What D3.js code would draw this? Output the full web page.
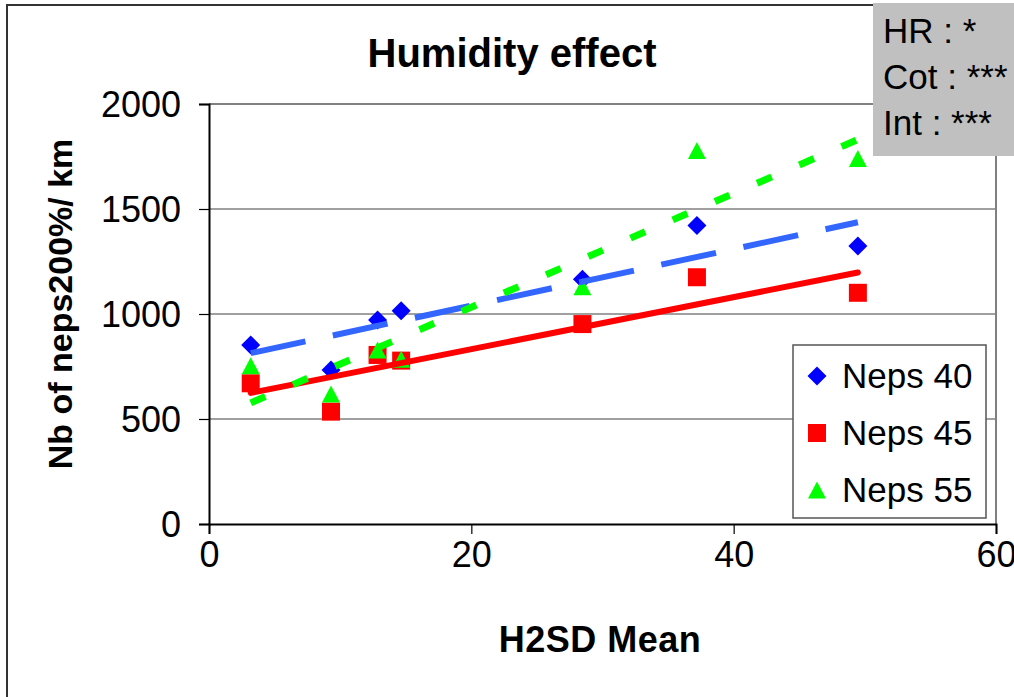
<!DOCTYPE html>
<html>
<head>
<meta charset="utf-8">
<script src="https://cdn.jsdelivr.net/npm/d3@7/dist/d3.min.js"></script>
<style>
  html, body { margin: 0; padding: 0; background: #fff; }
  svg { display: block; }
  text { font-family: "Liberation Sans", Arial, sans-serif; fill: #000; }
</style>
</head>
<body>
<svg id="chart" width="1014" height="697"></svg>
<script>
// ---- data ----
const xValues = [3.18, 9.3, 12.85, 14.65, 28.47, 37.2, 49.47];
const neps40 = [852, 733, 971, 1016, 1165, 1422, 1324];
const neps45 = [670, 535, 805, 778, 952, 1175, 1101];
const neps55 = [754, 619, 829, 785, 1130, 1778, 1741];
const seriesNames = ["Neps 40", "Neps 45", "Neps 55"];
const xTicks = [0, 20, 40, 60];
const yTicks = [0, 500, 1000, 1500, 2000];
const statsLines = ["HR : *", "Cot : ***", "Int : ***"];
const titleText = "Humidity effect";
const xLabelText = "H2SD Mean";
const yLabelText = "Nb of neps200%/ km";

// ---- styles ----
const styles = [
  { marker: "diamond", color: "#0000FF", line: "#3366FF", width: 6, dash: "56,28", cap: "butt" },
  { marker: "square",  color: "#FF0000", line: "#FF0000", width: 6, dash: null,   cap: "round" },
  { marker: "triangle",color: "#00FF00", line: "#00FF00", width: 7, dash: "16,30", cap: "butt" }
];
const allSeries = [neps40, neps45, neps55];

const svg = d3.select("#chart");

// outer chart frame
svg.append("rect").attr("x", 7).attr("y", 5).attr("width", 1200).attr("height", 900)
  .attr("fill", "#fff").attr("stroke", "#333").attr("stroke-width", 2);

const plot = { left: 209, right: 996, top: 104, bottom: 524 };
const x = d3.scaleLinear().domain([0, 60]).range([plot.left, plot.right]);
const y = d3.scaleLinear().domain([0, 2000]).range([plot.bottom, plot.top]);

// gridlines
svg.append("g").selectAll("line").data(yTicks.filter(d => d > 0)).join("line")
  .attr("x1", plot.left).attr("x2", plot.right)
  .attr("y1", d => y(d)).attr("y2", d => y(d))
  .attr("stroke", "#808080").attr("stroke-width", d => d === 2000 ? 2 : 1.5);
// right border of plot
svg.append("line").attr("x1", plot.right).attr("x2", plot.right)
  .attr("y1", plot.top).attr("y2", plot.bottom)
  .attr("stroke", "#808080").attr("stroke-width", 2);

// axes
const yAxis = d3.axisLeft(y).tickValues(yTicks).tickSize(10).tickPadding(18).tickFormat(d3.format("d"));
const gy = svg.append("g").attr("transform", `translate(${plot.left},0)`).call(yAxis);
gy.select(".domain").attr("stroke", "#000").attr("stroke-width", 2);
gy.selectAll(".tick line").attr("stroke", "#000").attr("stroke-width", 1.2);
gy.selectAll(".tick text").attr("font-size", 36).attr("font-family", "Liberation Sans, Arial, sans-serif").attr("dy", "0.35em");

const xAxis = d3.axisBottom(x).tickValues(xTicks).tickSize(10).tickPadding(8).tickFormat(d3.format("d"));
const gx = svg.append("g").attr("transform", `translate(0,${plot.bottom})`).call(xAxis);
gx.select(".domain").attr("stroke", "#000").attr("stroke-width", 2);
gx.selectAll(".tick line").attr("stroke", "#000").attr("stroke-width", 1.2);
gx.selectAll(".tick text").attr("font-size", 36).attr("font-family", "Liberation Sans, Arial, sans-serif")
  .attr("dy", null).attr("y", 43);

// marker path generator
function markerPath(type, cx, cy) {
  if (type === "diamond") { const r = 9.5; return `M${cx},${cy - r}L${cx + r},${cy}L${cx},${cy + r}L${cx - r},${cy}Z`; }
  if (type === "square") { const h = 9; return `M${cx - h},${cy - h}H${cx + h}V${cy + h}H${cx - h}Z`; }
  const w = 9, h = 17; return `M${cx},${cy - h / 2}L${cx + w},${cy + h / 2}L${cx - w},${cy + h / 2}Z`;
}

// markers
allSeries.forEach((vals, i) => {
  svg.append("g").selectAll("path").data(vals).join("path")
    .attr("d", (v, j) => markerPath(styles[i].marker, x(xValues[j]), y(v)))
    .attr("fill", styles[i].color);
});

// linear trendlines
function regression(xs, ys) {
  const n = xs.length, mx = d3.mean(xs), my = d3.mean(ys);
  let sxy = 0, sxx = 0;
  for (let k = 0; k < n; k++) { sxy += (xs[k] - mx) * (ys[k] - my); sxx += (xs[k] - mx) ** 2; }
  const b = sxy / sxx; return { a: my - b * mx, b };
}
const x0 = d3.min(xValues), x1 = d3.max(xValues);
allSeries.forEach((vals, i) => {
  const r = regression(xValues, vals);
  const ln = svg.append("line")
    .attr("x1", x(x0)).attr("y1", y(r.a + r.b * x0))
    .attr("x2", x(x1)).attr("y2", y(r.a + r.b * x1))
    .attr("stroke", styles[i].line).attr("stroke-width", styles[i].width)
    .attr("stroke-linecap", styles[i].cap);
  if (styles[i].dash) ln.attr("stroke-dasharray", styles[i].dash);
});

// title
svg.append("text").attr("x", 512).attr("y", 67).attr("text-anchor", "middle")
  .attr("font-size", 40).attr("font-weight", "bold").text(titleText);

// axis titles
svg.append("text").attr("x", 600).attr("y", 652).attr("text-anchor", "middle")
  .attr("font-size", 36).attr("font-weight", "bold").attr("letter-spacing", 0.5).text(xLabelText);
svg.append("text").attr("transform", "translate(72,304) rotate(-90)").attr("text-anchor", "middle")
  .attr("font-size", 34).attr("font-weight", "bold").text(yLabelText);

// legend
const lg = svg.append("g");
lg.append("rect").attr("x", 793).attr("y", 345).attr("width", 193).attr("height", 173)
  .attr("fill", "#fff").attr("stroke", "#555").attr("stroke-width", 1.5);
seriesNames.forEach((name, i) => {
  const cy = 376 + i * 57;
  lg.append("path").attr("d", markerPath(styles[i].marker, 817, cy)).attr("fill", styles[i].color);
  lg.append("text").attr("x", 842).attr("y", cy + 12).attr("font-size", 35).text(name);
});

// statistics box
svg.append("rect").attr("x", 873).attr("y", 3).attr("width", 160).attr("height", 153).attr("fill", "#C0C0C0");
statsLines.forEach((s, i) => {
  svg.append("text").attr("x", 883).attr("y", 43 + i * 46).attr("font-size", 35).text(s);
});
</script>
</body>
</html>
